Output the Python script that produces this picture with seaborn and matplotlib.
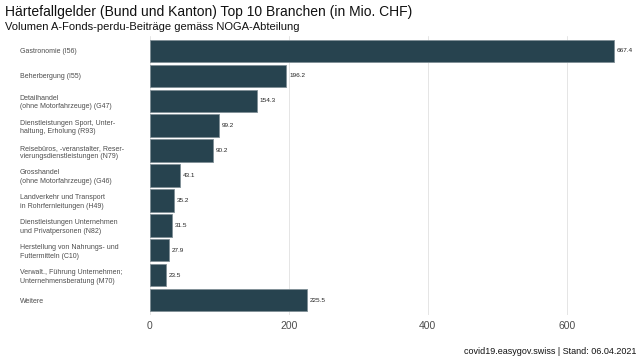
import matplotlib
matplotlib.use("Agg")
import matplotlib.pyplot as plt
import seaborn as sns
import pandas as pd

# Data
branchen = [
    "Gastronomie (I56)",
    "Beherbergung (I55)",
    "Detailhandel\n(ohne Motorfahrzeuge) (G47)",
    "Dienstleistungen Sport, Unter-\nhaltung, Erholung (R93)",
    "Reisebüros, -veranstalter, Reser-\nvierungsdienstleistungen (N79)",
    "Grosshandel\n(ohne Motorfahrzeuge) (G46)",
    "Landverkehr und Transport\nin Rohrfernleitungen (H49)",
    "Dienstleistungen Unternehmen\nund Privatpersonen (N82)",
    "Herstellung von Nahrungs- und\nFuttermitteln (C10)",
    "Verwalt., Führung Unternehmen;\nUnternehmensberatung (M70)",
    "Weitere",
]
volumen = [667.4, 196.2, 154.3, 99.2, 90.2, 43.1, 35.2, 31.5, 27.9, 23.5, 225.5]
x_ticks = [0, 200, 400, 600]

df = pd.DataFrame({"branche": branchen, "volumen": volumen})

sns.set_theme(style="whitegrid")
plt.rcParams["font.family"] = ["Liberation Sans", "DejaVu Sans"]

fig = plt.figure(figsize=(6.4, 3.6), dpi=100)
ax = fig.add_axes([0.198, 0.125, 0.797, 0.775])

sns.barplot(data=df, x="volumen", y="branche", color="#27434f",
            edgecolor="#7f8f96", linewidth=0.6, width=0.9, saturation=1, ax=ax)

# value labels next to bars
for i, v in enumerate(volumen):
    ax.text(v + 4, i, f"{v:.1f}", va="center", ha="left", fontsize=4.6, color="#222222")

ax.set_xlim(-33.4, 700.8)
ax.set_ylim(10.6, -0.6)
ax.set_xticks(x_ticks)
ax.set_xlabel("")
ax.set_ylabel("")
ax.grid(axis="y", visible=False)
ax.grid(axis="x", color="#e5e5e5", linewidth=0.7)
for s in ax.spines.values():
    s.set_visible(False)

ax.tick_params(axis="x", labelsize=7.5, colors="#4d4d4d", length=0, pad=4)
ax.tick_params(axis="y", labelsize=5.0, colors="#4d4d4d", length=0, pad=77)
for lab in ax.get_yticklabels():
    lab.set_horizontalalignment("left")
    lab.set_linespacing(1.3)

fig.text(0.008, 0.968, "Härtefallgelder (Bund und Kanton) Top 10 Branchen (in Mio. CHF)",
         fontsize=10, ha="left", va="center", color="#111111")
fig.text(0.008, 0.925, "Volumen A-Fonds-perdu-Beiträge gemäss NOGA-Abteilung",
         fontsize=8, ha="left", va="center", color="#111111")
fig.text(0.995, 0.025, "covid19.easygov.swiss | Stand: 06.04.2021",
         fontsize=6.5, ha="right", va="center", color="#111111")

fig.savefig("out.png", dpi=100)
